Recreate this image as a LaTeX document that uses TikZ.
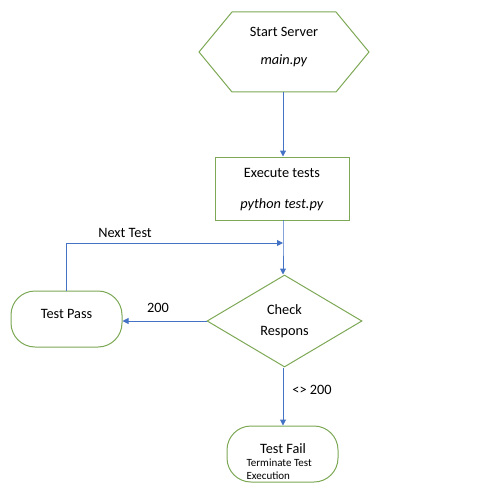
\documentclass[tikz,border=0pt]{standalone}
\usepackage{fontspec}
\setmainfont{Carlito}
\usetikzlibrary{shapes.geometric,arrows.meta}
\definecolor{boxgreen}{RGB}{125,168,85}
\definecolor{arrowblue}{RGB}{68,114,196}
\tikzset{
  outline/.style={draw=boxgreen,line width=1pt},
  flow/.style={draw=arrowblue,line width=1pt,-{Triangle[length=6pt,width=6pt]}},
  endcap/.style={outline,rounded corners=24pt,minimum width=111pt,minimum height=56pt,inner sep=0pt}
}
\begin{document}
\begin{tikzpicture}[x=1pt,y=-1pt,font=\fontsize{14.3}{20}\selectfont]
        \useasboundingbox (0,0) rectangle (478,500);
        \draw[outline] (232,12) -- (336,12) -- (369,52) -- (336,92) -- (232,92) -- (199,52) -- cycle;
        \draw (284,32) node (start) {Start Server};
        \draw (284,61) node (startpy) {\textit{main.py}};
        \coordinate (startS) at (283,92);
        \draw (282,188.5) node[outline,minimum width=134pt,minimum height=63pt] (exec) {};
        \draw (282,173) node (execA) {Execute tests};
        \draw (282,205) node (execB) {\textit{python test.py}};
        \coordinate (execS) at (283,220);
        \coordinate (merge) at (283,243);
        \draw (284.5,321) node[outline,diamond,minimum width=155pt,minimum height=92pt,inner sep=0pt,align=center,font=\fontsize{14.3}{21}\selectfont] (check) {Check\\Respons};
        \draw (66.5,319) node[endcap] (pass) {};
        \draw (66.5,314) node (passT) {Test Pass};
        \draw (282.5,454) node[endcap] (fail) {};
        \draw (283,449) node (failT) {Test Fail};
        \draw (243,469) node[anchor=west,align=left,font=\fontsize{11}{13}\selectfont] (failnote) {Terminate Test\\Execution};
        % connectors
        \draw[flow] (startS) -- (exec.north -| startS);
        \draw[flow] (execS) -- (merge) -- (check.north -| merge);
        \draw[flow] (pass.north) |- (merge);
        \draw[flow] (check.west) -- (check.west -| pass.east);
        \draw[flow] (check.south -| merge) -- (fail.north -| merge);
        % labels
        \draw (125,233) node (nexttest) {Next Test};
        \draw (158,308) node (ok) {200};
        \draw (312,390) node (notok) {<> 200};
\end{tikzpicture}
\end{document}
